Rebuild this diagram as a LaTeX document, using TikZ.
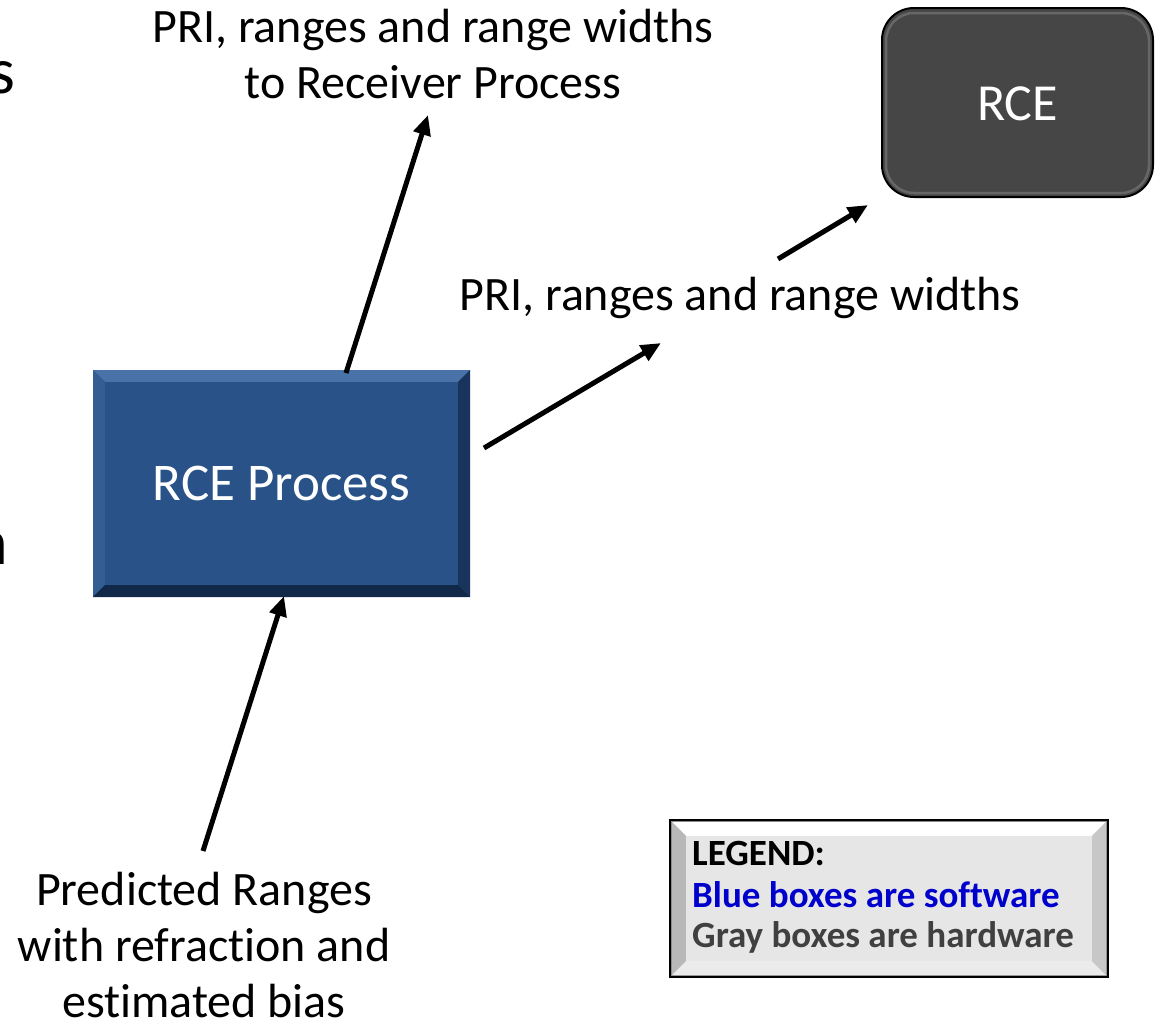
\documentclass[tikz,border=0pt]{standalone}
\usepackage{fontspec}
\setmainfont{Carlito}[Ligatures=NoCommon]
\usetikzlibrary{arrows.meta,calc}
\definecolor{procblue}{RGB}{40,82,136}
\definecolor{proclight}{RGB}{72,114,168}
\definecolor{procmid}{RGB}{50,94,148}
\definecolor{procdark}{RGB}{24,52,92}
\definecolor{procdarker}{RGB}{18,40,72}
\definecolor{rcegray}{RGB}{70,70,70}
\definecolor{legface}{RGB}{230,230,230}
\definecolor{legblue}{RGB}{0,0,204}
\definecolor{leggray}{RGB}{64,64,64}
\tikzset{
  lbl/.style={font=\fontsize{48}{56}\selectfont, align=center, inner sep=0pt},
  conn/.style={line width=5pt, -{Triangle[length=20pt,width=17pt]}},
  legtxt/.style={font=\fontsize{37}{42}\selectfont\bfseries, anchor=base west, inner sep=0pt},
}
\begin{document}
\begin{tikzpicture}[x=1pt,y=-1pt]
\useasboundingbox (0,0) rectangle (1157,1026);
\fill[white] (0,0) rectangle (1157,1026);
\clip (0,0) rectangle (1157,1026);

% clipped fragments at the left edge
\node[font=\fontsize{66}{70}\selectfont, anchor=base east, inner sep=0pt] (fragS) at (16,93) {s};
\node[font=\fontsize{66}{70}\selectfont, anchor=base east, inner sep=0pt] (fragN) at (8,564) {n};

% RCE Process box (bevelled)
\fill[procdark] (93,370) rectangle (470,597);
\fill[proclight] (93,370) -- (470,370) -- (458,382) -- (105,382) -- cycle;
\fill[procmid] (93,370) -- (105,382) -- (105,585) -- (93,597) -- cycle;
\fill[procdark] (470,370) -- (470,597) -- (458,585) -- (458,382) -- cycle;
\fill[procdarker] (93,597) -- (470,597) -- (458,585) -- (105,585) -- cycle;
\fill[procblue] (105,382) rectangle (458,585);
\node[minimum width=377pt, minimum height=227pt, inner sep=0pt, text=white,
      font=\fontsize{53}{60}\selectfont] (proc) at (281.5,483.5) {RCE Process};

% RCE hardware box
\draw[line width=2pt, fill=rcegray, rounded corners=32pt] (882,8) rectangle (1153,197);
\draw[white!18!rcegray, line width=2.5pt, rounded corners=28pt] (886,13) rectangle (1149,193);
\node[minimum width=271pt, minimum height=189pt, inner sep=0pt, text=white,
      font=\fontsize{52}{60}\selectfont] (rce) at (1017.5,104) {RCE};

% Legend box
\fill[black!45] (670,820) rectangle (1108,977);
\fill[white] (672,822) -- (1106,822) -- (1092,836) -- (686,836) -- cycle;
\fill[black!28] (672,822) -- (686,836) -- (686,961) -- (672,975) -- cycle;
\fill[black!22] (1106,822) -- (1106,975) -- (1092,961) -- (1092,836) -- cycle;
\fill[black!8] (672,975) -- (1106,975) -- (1092,961) -- (686,961) -- cycle;
\fill[legface] (686,836) rectangle (1092,961);
\draw[line width=2pt] (670,820) rectangle (1108,977);
\node[minimum width=438pt, minimum height=157pt, inner sep=0pt] (legend) at (889,898.5) {};
\node[legtxt] (leg1) at (692,865) {LEGEND:};
\node[legtxt, text=legblue] (leg2) at (692,907) {Blue boxes are software};
\node[legtxt, text=leggray] (leg3) at (692,947) {Gray boxes are hardware};

% labels (base anchor = baseline of last line)
\node[lbl, anchor=base] (toplbl) at (433,98) {PRI, ranges and range widths\\to Receiver Process};
\node[lbl, anchor=base] (rightlbl) at (740,310) {PRI, ranges and range widths};
\node[lbl, anchor=base] (botlbl) at (204,1017) {Predicted Ranges\\with refraction and\\estimated bias};

% connector end points
\coordinate (a1s) at (346,373);
\coordinate (a1e) at (428,115);
\coordinate (a2s) at (484,448);
\coordinate (a2e) at (661,343);
\coordinate (a3s) at (778,259);
\coordinate (a3e) at (868,205);
\coordinate (a4s) at (203,851);
\coordinate (a4e) at (284,596);

\draw[conn] (a1s) -- (a1e);
\draw[conn] (a2s) -- (a2e);
\draw[conn] (a3s) -- (a3e);
\draw[conn] (a4s) -- (a4e);
\end{tikzpicture}
\end{document}
